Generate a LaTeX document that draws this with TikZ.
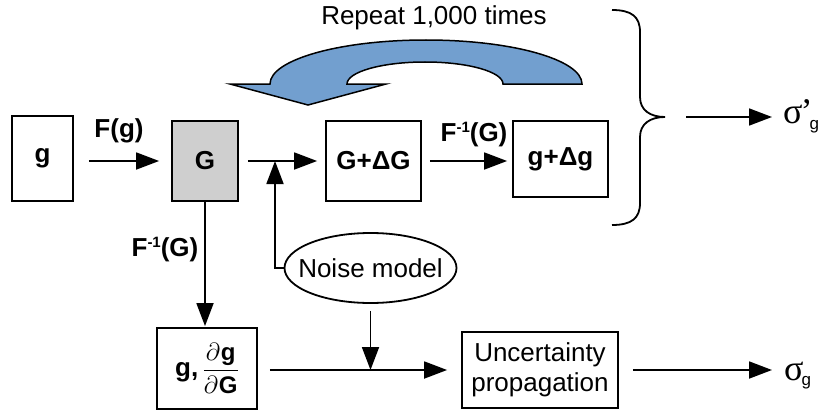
\documentclass[tikz,border=0pt]{standalone}
\usepackage{fontspec}
\setmainfont{Liberation Sans}
\newfontfamily\sigfont{Liberation Serif}
\usetikzlibrary{shapes.geometric,arrows.meta}
\definecolor{arrowblue}{HTML}{729FCF}
\definecolor{boxgray}{HTML}{CFCFCF}
\newcommand{\invsup}{\raisebox{9pt}{\fontsize{15}{15}\selectfont -1}}
\newcommand{\pfrpart}[1]{\hbox{\fontsize{24}{24}\selectfont$\partial$\kern1pt\bfseries #1}}
\newcommand{\pfr}{$\displaystyle\frac{\pfrpart{g}}{\pfrpart{G}}$}
\begin{document}
\begin{tikzpicture}[x=1pt,y=-1pt,
  font=\fontsize{26}{30}\selectfont,
  box/.style={draw, line width=1.8pt, inner sep=0pt, font=\fontsize{26}{30}\selectfont\bfseries},
  arr/.style={line width=1.8pt, -{Triangle[length=23pt,width=17pt]}},
  lab/.style={font=\fontsize{26}{30}\selectfont\bfseries, anchor=base, inner sep=0pt}]
\useasboundingbox (0,0) rectangle (819,412);

% blue repeat arrow
\draw[line width=1.5pt, fill=arrowblue] (582,84) arc[start angle=0, end angle=180, x radius=156pt, y radius=44pt]
  -- (230,84) -- (308,105) -- (386,84) -- (347,84)
  arc[start angle=180, end angle=0, x radius=78pt, y radius=22pt] -- cycle;
\node[anchor=base, inner sep=0pt] (rep) at (434,25) {Repeat 1,000 times};

% boxes
\node[box, minimum width=61pt, minimum height=85pt] (g) at (42.5,158.5) {g};
\node[box, fill=boxgray, minimum width=66pt, minimum height=80pt] (G) at (205,161) {G};
\node[box, minimum width=95pt, minimum height=80pt] (GdG) at (373.5,161) {G+ΔG};
\node[box, minimum width=95pt, minimum height=76pt] (gdg) at (560.5,159) {g+Δg};
\node[box, minimum width=100pt, minimum height=81pt] (gp) at (207,368.5) {g,\,\pfr};
\node[draw, ellipse, line width=1.8pt, minimum width=172pt, minimum height=70pt, inner sep=0pt] (noise) at (370.5,268) {\makebox[0pt][c]{Noise model}};
\node[draw, line width=1.8pt, minimum width=156pt, minimum height=76pt, align=center, inner sep=0pt] (unc) at (540,370) {Uncertainty\\propagation};

% labels
\node[lab] (lFg) at (119,137) {F(g)};
\node[lab] (lFi1) at (474,141) {F\invsup(G)};
\node[lab] (lFi2) at (165,256) {F\invsup(G)};

% sigma outputs
\node[anchor=base west, inner sep=0pt] (sp) at (783,123) {\sigfont\fontsize{36}{36}\selectfont σ\kern-2pt’\kern-3pt\raisebox{-6pt}{\fontsize{17}{17}\selectfont\rmfamily g}};
\node[anchor=base west, inner sep=0pt] (sg) at (784,380) {\sigfont\fontsize{36}{36}\selectfont σ\kern-2pt\raisebox{-5pt}{\fontsize{17}{17}\selectfont\rmfamily g}};

% brace
\coordinate (bt) at (665,117);
\draw[line width=1.8pt] (612,10) .. controls (632,10) and (640,17) .. (640,32) -- (640,97)
  .. controls (640,110) and (650,117) .. (bt)
  .. controls (650,117) and (640,124) .. (640,137) -- (640,203)
  .. controls (640,218) and (632,225) .. (612,225);

% connectors
\coordinate (j1) at (275,161);
\coordinate (j2) at (noise.south |- unc.west);
\draw[arr, shorten <=15pt, shorten >=12pt] (g.east |- G.center) -- (G.west);
\draw[arr, shorten <=9pt, shorten >=8pt] (G.east) -- (GdG.west);
\draw[arr] (noise.west) -| (j1);
\draw[arr, shorten <=8pt, shorten >=5pt] (GdG.east) -- (gdg.west |- GdG.east);
\draw[arr, shorten >=1pt] (G.south) -- (G.south |- gp.north);
\draw[arr, shorten <=12pt, shorten >=14pt] (gp.east |- unc.west) -- (unc.west);
\draw[arr, shorten <=7pt] (noise.south) -- (j2);
\draw[arr, shorten <=14pt, shorten >=12pt] (unc.east) -- (unc.east -| sg.west);
\draw[arr, shorten <=21pt, shorten >=11pt] (bt) -- (bt -| sp.west);
\end{tikzpicture}
\end{document}
